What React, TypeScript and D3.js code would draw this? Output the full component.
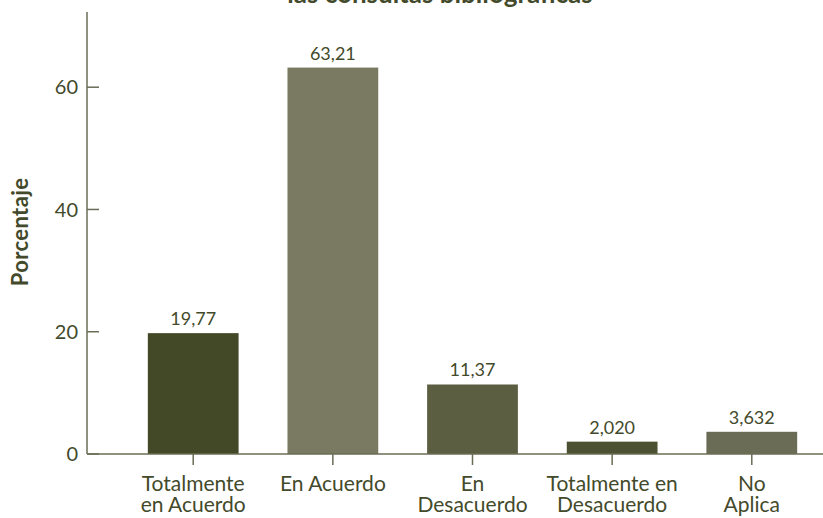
import * as React from 'react';
import { scaleBand, scaleLinear } from 'd3';

const categories = ['Totalmente en Acuerdo', 'En Acuerdo', 'En Desacuerdo', 'Totalmente en Desacuerdo', 'No Aplica'];
const categoryLines = [
  ['Totalmente', 'en Acuerdo'],
  ['En Acuerdo'],
  ['En', 'Desacuerdo'],
  ['Totalmente en', 'Desacuerdo'],
  ['No', 'Aplica'],
];
const values = [19.77, 63.21, 11.37, 2.02, 3.632];
const valueLabels = ['19,77', '63,21', '11,37', '2,020', '3,632'];
const barColors = ['#434927', '#7a7a62', '#5c5e42', '#4d5133', '#6b6c55'];
const yTicks = [0, 20, 40, 60];

const W = 823;
const H = 518;
const INK = '#434a2b';
const AXIS = '#6b6c55';
const FONT = 'Lato, "Open Sans", sans-serif';

export default function App() {
  const x = scaleBand<string>().domain(categories).range([78, 867]).paddingInner(0.35).paddingOuter(0.5);
  const y = scaleLinear().domain([0, 72.3]).range([454, 12]);
  const x0 = 87;

  return (
    <svg width={W} height={H} viewBox={`0 0 ${W} ${H}`}
      style={{ position: 'absolute', left: 0, top: 0, background: '#fff' }} fontFamily={FONT}>
      {/* title, only the bottom of its last line is in view */}
      <text x={440} y={3} textAnchor="middle" fontSize={26} fontWeight="bold" fill={INK}>
        las consultas bibliográficas
      </text>

      {/* bars */}
      {values.map((v, i) => (
        <rect key={categories[i]} x={x(categories[i])} y={y(v)} width={x.bandwidth()}
          height={y(0) - y(v)} fill={barColors[i]} />
      ))}

      {/* value labels */}
      {values.map((v, i) => (
        <text key={'v' + i} x={(x(categories[i]) ?? 0) + x.bandwidth() / 2} y={y(v) - 8}
          textAnchor="middle" fontSize={18} fill={INK}>{valueLabels[i]}</text>
      ))}

      {/* axes */}
      <line x1={x0} x2={x0} y1={y.range()[1]} y2={y(0)} stroke={AXIS} strokeWidth={1.5} />
      <line x1={x0} x2={W} y1={y(0)} y2={y(0)} stroke={AXIS} strokeWidth={1.5} />
      {yTicks.map(t => (
        <g key={t}>
          <line x1={x0} x2={x0 + 12} y1={y(t)} y2={y(t)} stroke={AXIS} strokeWidth={1.5} />
          <text x={78} y={y(t)} dy="0.36em" textAnchor="end" fontSize={20} fill={INK}>{t}</text>
        </g>
      ))}
      {categories.map((c, i) => {
        const cx = (x(c) ?? 0) + x.bandwidth() / 2;
        return (
          <g key={c}>
            <line x1={cx} x2={cx} y1={y(0)} y2={y(0) + 11} stroke={AXIS} strokeWidth={1.5} />
            <text x={cx} textAnchor="middle" fontSize={21} fill={INK}>
              {categoryLines[i].map((l, j) => (
                <tspan key={j} x={cx} y={491 + j * 21}>{l}</tspan>
              ))}
            </text>
          </g>
        );
      })}

      <text transform="translate(28,232) rotate(-90)" textAnchor="middle" fontSize={22}
        fontWeight="bold" letterSpacing={0.4} fill={INK}>Porcentaje</text>
    </svg>
  );
}
